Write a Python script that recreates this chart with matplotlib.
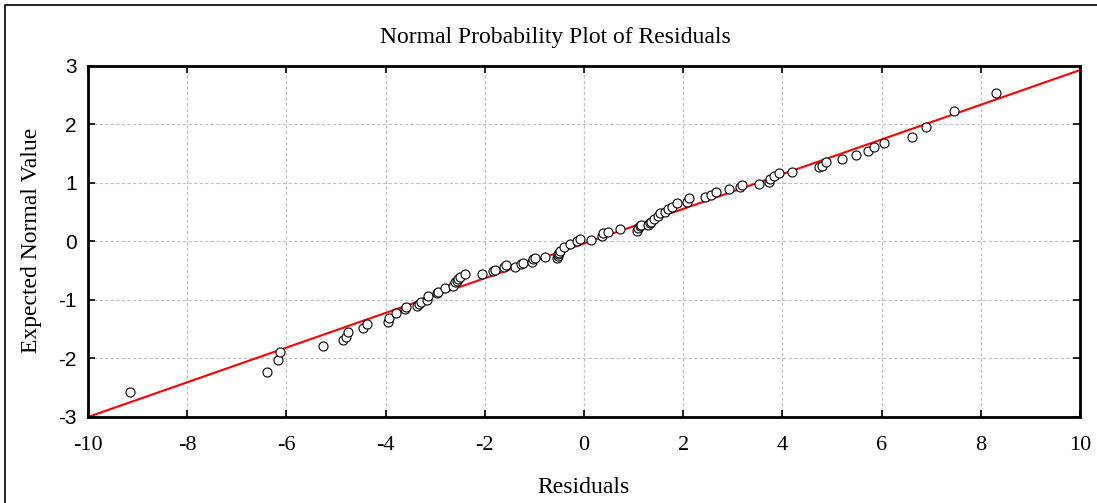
import numpy as np
import matplotlib
matplotlib.use('Agg')
from matplotlib import pyplot as plt
from matplotlib.lines import Line2D

plt.rcParams['axes.unicode_minus'] = False

# residuals and expected normal values
resid = [-9.15, -6.40, -6.16, -6.12, -5.27, -4.86, -4.80, -4.75, -4.46, -4.38,
         -3.95, -3.93, -3.78, -3.61, -3.59, -3.37, -3.33, -3.29, -3.17, -3.15,
         -2.97, -2.95, -2.80, -2.64, -2.60, -2.57, -2.54, -2.49, -2.40, -2.05,
         -1.83, -1.79, -1.61, -1.58, -1.39, -1.26, -1.22, -1.05, -1.02, -0.99,
         -0.79, -0.54, -0.53, -0.52, -0.50, -0.48, -0.40, -0.28, -0.15, -0.09,
         0.14, 0.36, 0.38, 0.49, 0.73, 1.06, 1.09, 1.12, 1.15, 1.30,
         1.33, 1.36, 1.41, 1.50, 1.54, 1.63, 1.70, 1.77, 1.87, 2.07,
         2.11, 2.44, 2.57, 2.66, 2.93, 3.15, 3.18, 3.53, 3.74, 3.76,
         3.83, 3.94, 4.19, 4.74, 4.79, 4.88, 5.20, 5.48, 5.72, 5.85,
         6.05, 6.61, 6.89, 7.45, 8.31]
expected = [-2.58, -2.23, -2.03, -1.89, -1.79, -1.69, -1.63, -1.55, -1.48, -1.41,
            -1.37, -1.30, -1.22, -1.15, -1.12, -1.10, -1.07, -1.03, -1.00, -0.94,
            -0.88, -0.86, -0.79, -0.76, -0.70, -0.67, -0.64, -0.61, -0.56, -0.56,
            -0.50, -0.48, -0.43, -0.40, -0.43, -0.39, -0.36, -0.35, -0.30, -0.28,
            -0.26, -0.28, -0.25, -0.22, -0.19, -0.16, -0.09, -0.05, 0.00, 0.04,
            0.03, 0.09, 0.14, 0.17, 0.21, 0.18, 0.23, 0.26, 0.28, 0.28,
            0.31, 0.34, 0.38, 0.44, 0.48, 0.51, 0.55, 0.59, 0.65, 0.68,
            0.75, 0.76, 0.79, 0.85, 0.89, 0.94, 0.97, 0.99, 1.02, 1.06,
            1.12, 1.17, 1.19, 1.27, 1.29, 1.36, 1.41, 1.47, 1.54, 1.61,
            1.68, 1.78, 1.95, 2.23, 2.53]

# fitted line
slope = 0.2965
intercept = -0.035

xticks = [-10, -8, -6, -4, -2, 0, 2, 4, 6, 8, 10]
yticks = [-3, -2, -1, 0, 1, 2, 3]

fig = plt.figure(figsize=(10.97, 5.03), dpi=100)
ax = fig.add_axes([0.0802, 0.171, 0.9043, 0.6978])

ax.grid(True, color='#c0c0c0', linestyle=(0, (3, 2)), linewidth=0.8)
ax.set_axisbelow(True)

lx = np.array([-10, 10])
ax.plot(lx, intercept + slope * lx, color='red', linewidth=1.5, zorder=2)
ax.plot(resid, expected, 'o', markersize=6.5, markerfacecolor='white',
        markeredgecolor='black', markeredgewidth=0.8, zorder=3)

ax.set_xlim(-10, 10)
ax.set_ylim(-3, 3)
ax.set_xticks(xticks)
ax.set_yticks(yticks)
ax.tick_params(direction='in', length=5, width=1.2, top=True, right=True)
ax.tick_params(axis='x', pad=14)
ax.tick_params(axis='y', pad=8)
for lab in ax.get_xticklabels():
    lab.set_fontfamily('Liberation Serif')
    lab.set_fontsize(16)
for lab in ax.get_yticklabels():
    lab.set_fontfamily('Liberation Sans')
    lab.set_fontsize(15)
for s in ax.spines.values():
    s.set_linewidth(2)

fig.text(0.506, 0.926, 'Normal Probability Plot of Residuals', ha='center', va='center',
         fontfamily='Liberation Serif', fontsize=17)
fig.text(0.532, 0.031, 'Residuals', ha='center', va='center',
         fontfamily='Liberation Serif', fontsize=17)
fig.text(0.029, 0.523, 'Expected Normal Value', ha='center', va='center', rotation=90,
         fontfamily='Liberation Serif', fontsize=17)

# outer frame: left and top edges only
fig.add_artist(Line2D([0.005, 0.005, 1.0], [0.0, 0.99, 0.99],
                      color='black', linewidth=1.2))

fig.savefig('out.png', dpi=100)
